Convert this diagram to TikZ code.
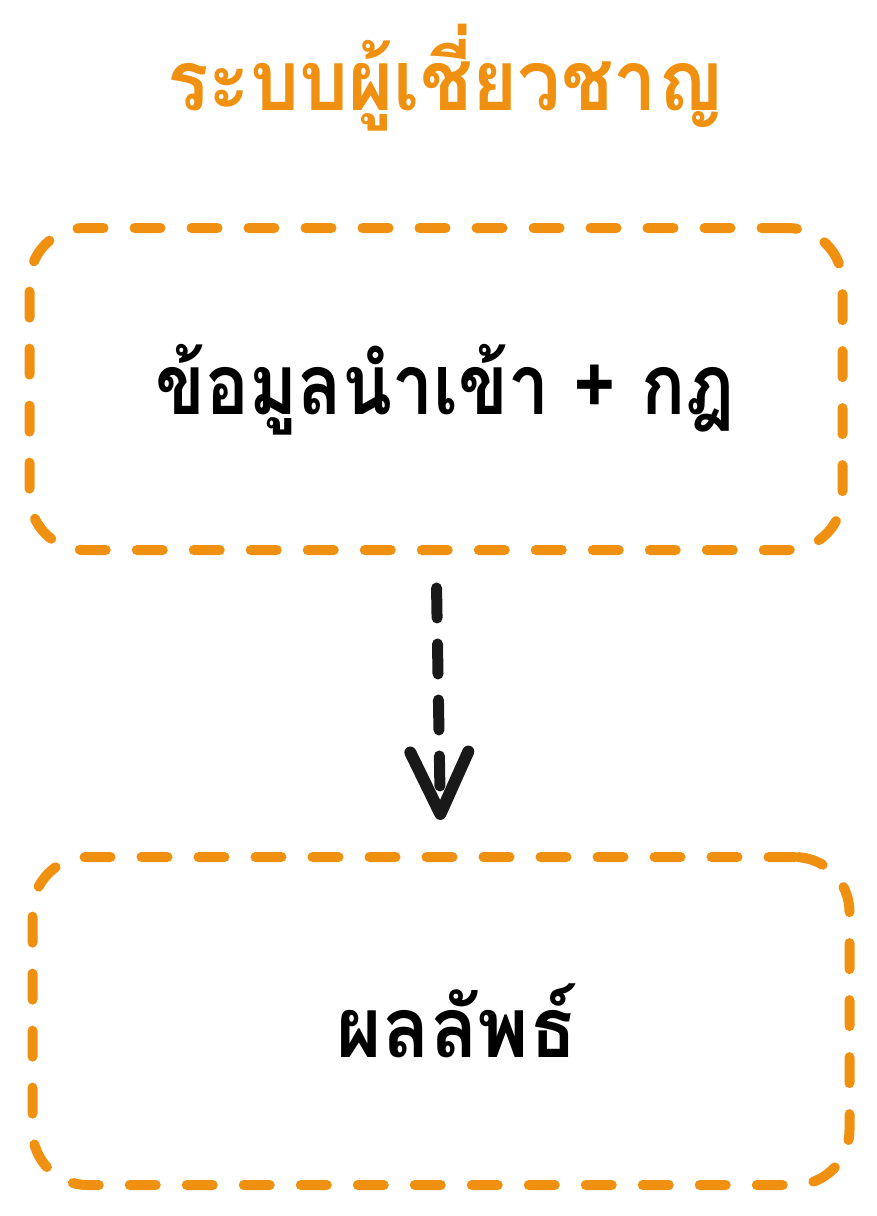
\documentclass[tikz,border=0pt]{standalone}
\usepackage{graphicx}
\usepackage{fontspec}
\newfontfamily\thaifont[Script=Thai]{Loma}
\usetikzlibrary{arrows.meta,positioning}
\definecolor{expertorange}{RGB}{240,144,16}
\definecolor{inkblack}{RGB}{25,25,25}

\begin{document}
\begin{tikzpicture}[x=1pt,y=-1pt]

  \tikzstyle{dashbox} = [draw=expertorange,line width=10pt,line cap=round,dash pattern=on 26pt off 31pt,rounded corners=55pt,minimum width=813pt,minimum height=322pt,inner sep=0pt]
  \tikzstyle{label} = [font=\thaifont\bfseries\fontsize{84}{96}\selectfont,text=black]
  \tikzstyle{flow} = [draw=inkblack,line width=11pt,line cap=round,dash pattern=on 30pt off 26pt,-{Straight Barb[length=62pt,width=58pt,line width=12pt,round]}]

  \useasboundingbox (0,0) rectangle (876,1216);

  \node[label,text=expertorange] (title) at (445,78) {\scalebox{0.92}[1]{ระบบผู้เชี่ยวชาญ}};

  \node[dashbox] (input) at (436,389) {};
  \node[label] (inputtext) at (445,390) {\scalebox{0.87}[1]{ข้อมูลนำเข้า + กฎ}};

  \node[dashbox,minimum height=328pt,minimum width=817pt] (result) at (441,1021) {};
  \node[label] (resulttext) at (457,1021) {\scalebox{0.93}[1]{ผลลัพธ์}};

  \draw[flow,shorten <=33pt,shorten >=32pt] (input.south) -- (result.north);

\end{tikzpicture}
\end{document}
